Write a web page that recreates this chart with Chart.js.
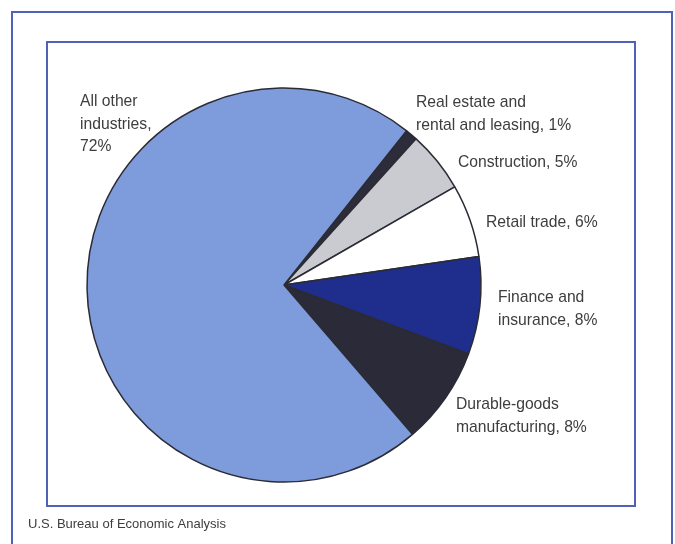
<!DOCTYPE html>
<html>
<head>
<meta charset="utf-8">
<script src="https://cdn.jsdelivr.net/npm/chart.js@4.4.1/dist/chart.umd.min.js"></script>
<style>
  html, body { margin: 0; padding: 0; background: #ffffff; }
  #wrap { position: relative; width: 675px; height: 544px; }
</style>
</head>
<body>
<div id="wrap"><canvas id="pieChart" width="675" height="544"></canvas></div>
<script>
// slices in clockwise order, starting at the real estate wedge
const categories = [
  ['Real estate and', 'rental and leasing, 1%'],
  ['Construction, 5%'],
  ['Retail trade, 6%'],
  ['Finance and', 'insurance, 8%'],
  ['Durable-goods', 'manufacturing, 8%'],
  ['All other', 'industries,', '72%']
];
const shares = [1, 5, 6, 8, 8, 72];
const sliceColors = ['#2c2c3a', '#c9cbd1', '#ffffff', '#1f2e8c', '#2a2a38', '#7e9bdc'];
const sourceNote = 'U.S. Bureau of Economic Analysis';

// left x / first baseline of each label block
const labelPos = [
  [416, 107],
  [458, 167],
  [486, 227],
  [498, 302],
  [456, 409],
  [80, 106]
];

const frameColor = '#5062b6';
const textColor = '#3d3d3d';

const framePlugin = {
  id: 'frame',
  beforeDraw(chart) {
    const ctx = chart.ctx;
    ctx.save();
    ctx.fillStyle = '#ffffff';
    ctx.fillRect(0, 0, chart.width, chart.height);
    ctx.strokeStyle = frameColor;
    ctx.lineWidth = 2;
    // outer panel runs off the bottom of the picture
    ctx.beginPath();
    ctx.moveTo(12, 560);
    ctx.lineTo(12, 12);
    ctx.lineTo(672, 12);
    ctx.lineTo(672, 560);
    ctx.stroke();
    ctx.strokeRect(47, 42, 588, 464);
    ctx.restore();
  },
  afterDraw(chart) {
    const ctx = chart.ctx;
    ctx.save();
    ctx.fillStyle = textColor;
    ctx.textBaseline = 'alphabetic';
    ctx.textAlign = 'left';
    ctx.font = '15.7px "Liberation Sans", Arial, sans-serif';
    categories.forEach((lines, i) => {
      const [x, y] = labelPos[i];
      lines.forEach((line, k) => ctx.fillText(line, x, y + k * 22.5));
    });
    ctx.font = '13px "Liberation Sans", Arial, sans-serif';
    ctx.fillText(sourceNote, 28, 528);
    ctx.restore();
  }
};

const ctx = document.getElementById('pieChart').getContext('2d');
new Chart(ctx, {
  type: 'pie',
  data: {
    labels: categories.map(l => l.join(' ')),
    datasets: [{
      data: shares,
      backgroundColor: sliceColors,
      borderColor: '#2b2b35',
      borderWidth: 1.5,
      hoverOffset: 0
    }]
  },
  options: {
    responsive: false,
    animation: false,
    events: [],
    rotation: 38.5,
    layout: { padding: { left: 86.25, right: 193.25, top: 87.25, bottom: 61.25 } },
    plugins: {
      legend: { display: false },
      tooltip: { enabled: false },
      title: { display: false }
    }
  },
  plugins: [framePlugin]
});
</script>
</body>
</html>
